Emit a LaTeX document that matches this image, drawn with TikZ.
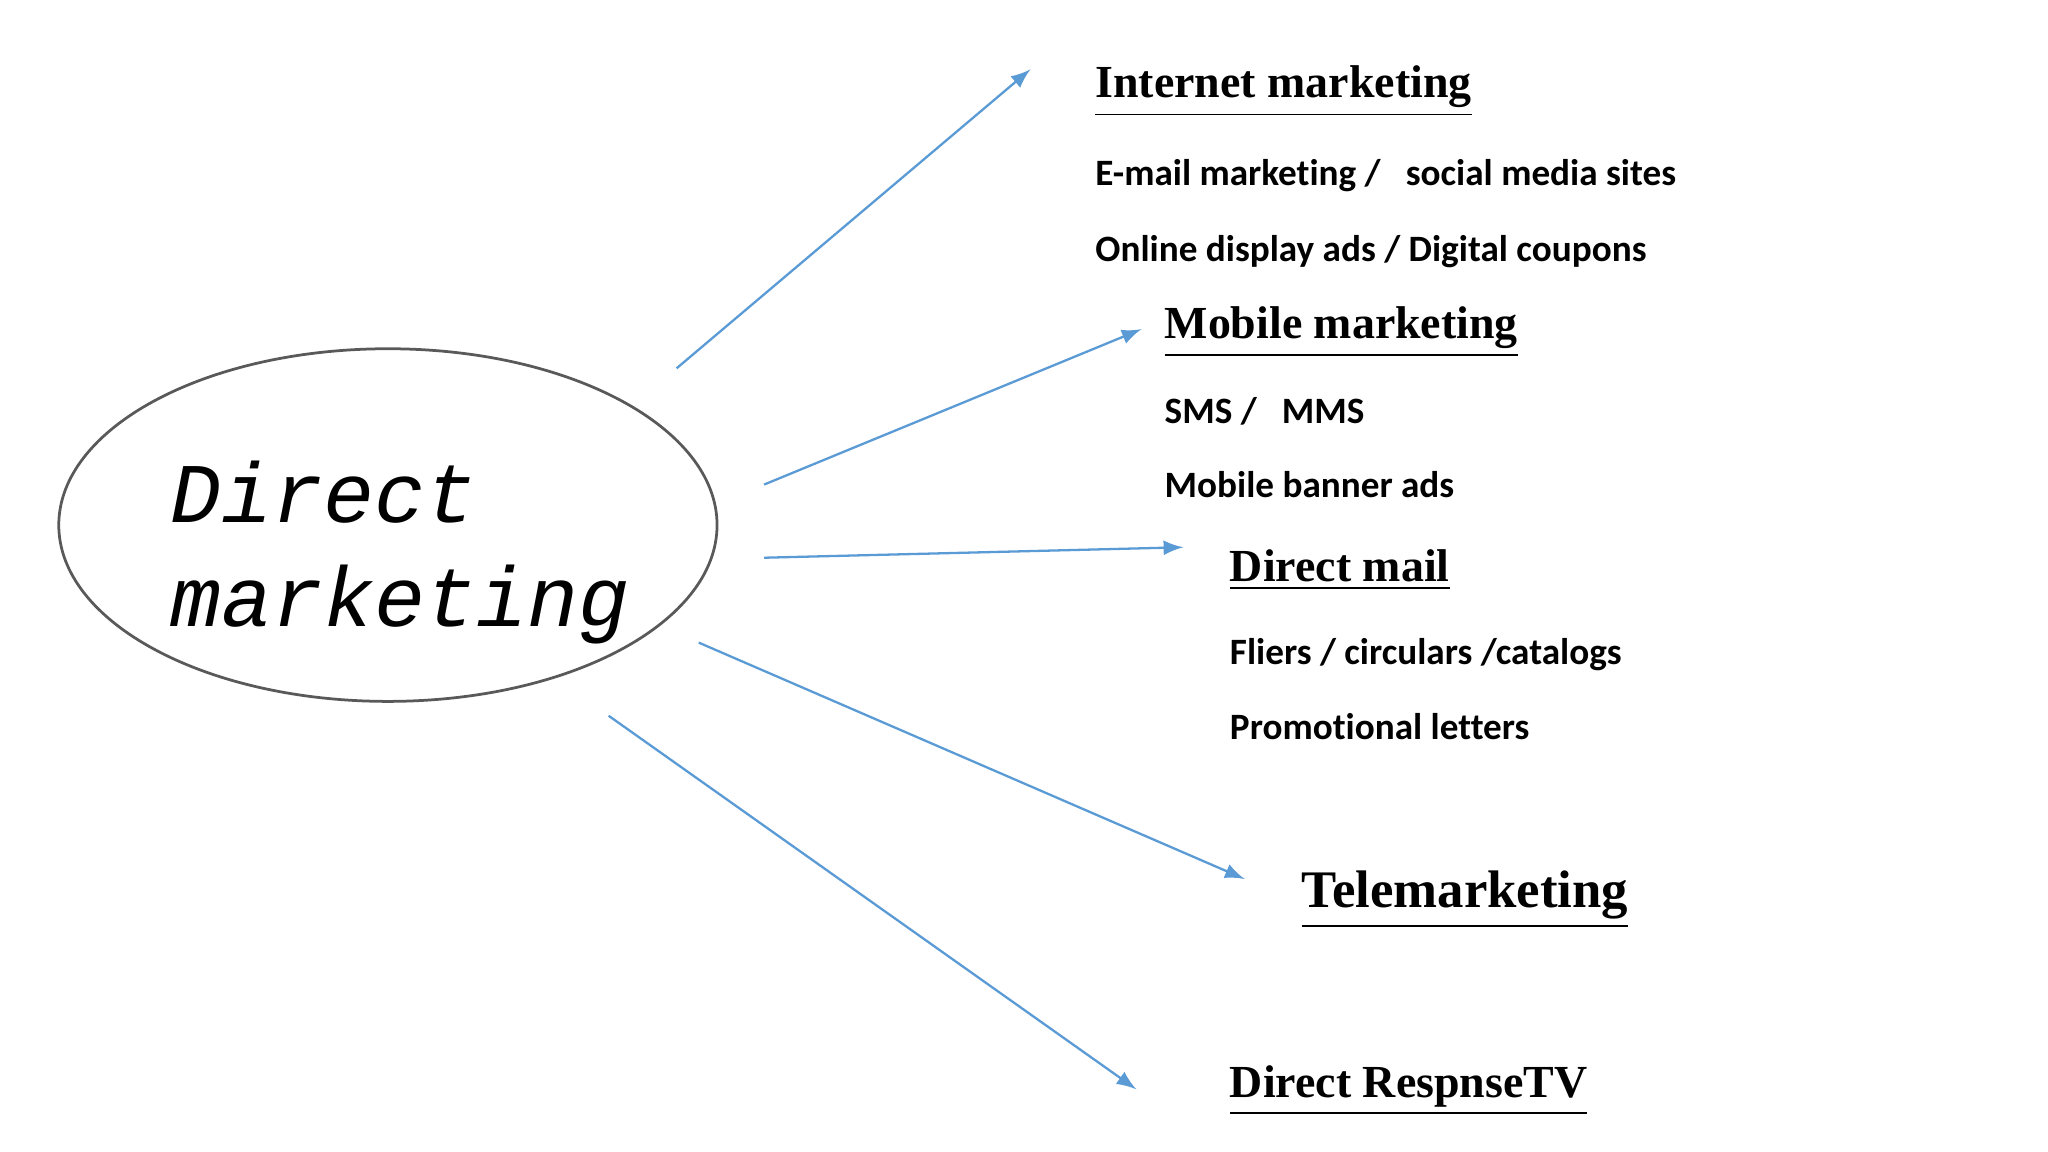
\documentclass[tikz,border=0pt]{standalone}
\usepackage{fontspec}
\setmainfont[Ligatures=NoCommon]{Carlito}
\newfontfamily\headfont{Liberation Serif}
\newfontfamily\monoit{Liberation Mono}
\begin{document}
\begin{tikzpicture}[x=0.1mm,y=-0.1mm,
  arr/.style={color={rgb,255:red,91;green,155;blue,213}, line width=0.5pt, -latex},
  head/.style={anchor=base west, inner sep=0pt, font=\headfont\bfseries\fontsize{10}{12}\selectfont},
  body/.style={anchor=base west, inner sep=0pt, font=\bfseries\fontsize{8.1}{10}\selectfont}]
\useasboundingbox (0,0) rectangle (1568,882);
\draw[gray!70!black, line width=0.6pt] (297,402) ellipse [x radius=252, y radius=135];
\node[anchor=base west, inner sep=0pt, font=\monoit\itshape\fontsize{18.5}{22}\selectfont] (dm) at (130,400) {Direct};
\node[anchor=base west, inner sep=0pt, font=\monoit\itshape\fontsize{18.5}{22}\selectfont] (dm2) at (130,480) {marketing};
\node[head] (im) at (838,75) {\underline{Internet marketing}};
\node[body] (e1) at (838,142) {E-mail marketing /\ \ \ social media sites};
\node[body] (e2) at (838,200) {Online display ads / Digital coupons};
\node[head] (mm) at (891,259) {\underline{Mobile marketing}};
\node[body] (s1) at (891,324) {SMS /\ \ \ MMS};
\node[body] (s2) at (891,381) {Mobile banner ads};
\node[head] (dml) at (941,445) {\underline{Direct mail}};
\node[body] (f1) at (941,509) {Fliers / circulars /catalogs};
\node[body] (f2) at (941,566) {Promotional letters};
\node[head, font=\headfont\bfseries\fontsize{11.5}{14}\selectfont] (tm) at (996,695) {\underline{Telemarketing}};
\node[head] (tv) at (941,840) {\underline{Direct RespnseTV}};
\coordinate (a1s) at (518,282); \coordinate (a1e) at (789,53);
\coordinate (a2s) at (585,371); \coordinate (a2e) at (874,252);
\coordinate (a3s) at (585,427); \coordinate (a3e) at (906,419);
\coordinate (a4s) at (535,492); \coordinate (a4e) at (953,673);
\coordinate (a5s) at (466,548); \coordinate (a5e) at (870,834);
\foreach \i in {1,...,5}{\draw[arr] (a\i s) -- (a\i e);}
\end{tikzpicture}
\end{document}
